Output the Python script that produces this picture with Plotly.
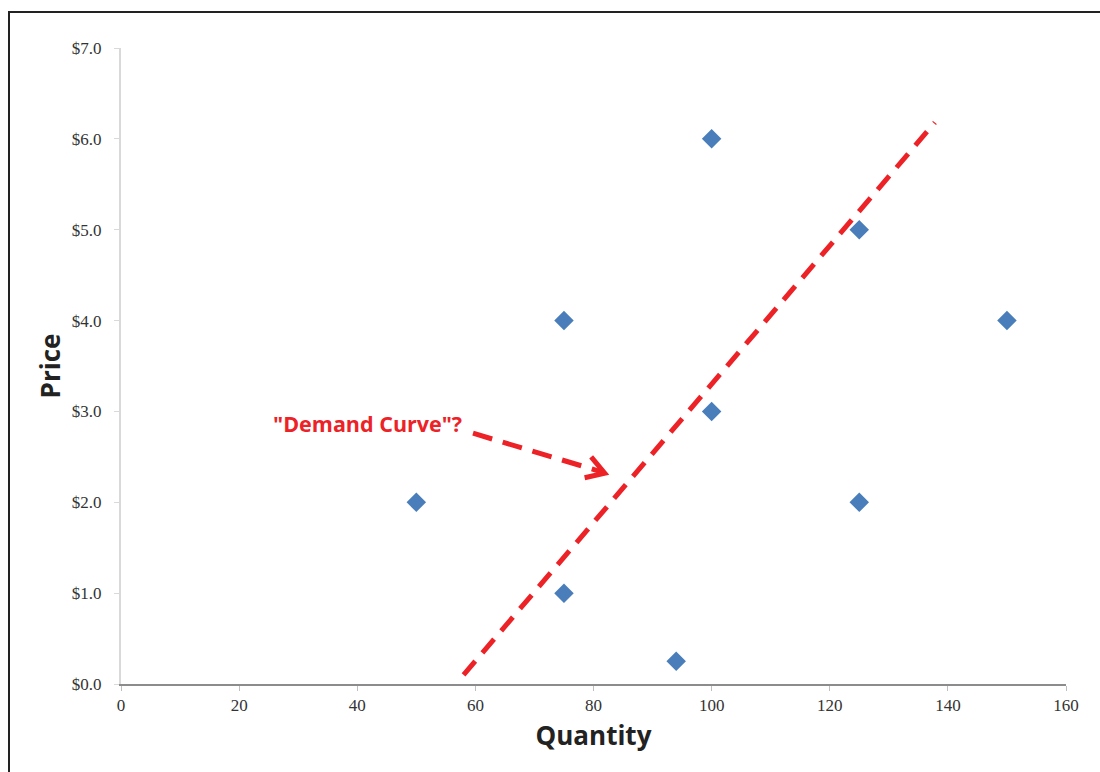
import plotly.graph_objects as go

# Data
quantity = [50, 75, 75, 100, 100, 125, 125, 150, 94]
price = [2.0, 4.0, 1.0, 6.0, 3.0, 5.0, 2.0, 4.0, 0.25]

# Hand-drawn "demand curve" guess line (data coords)
curve_x = [58, 137.8]
curve_y = [0.1, 6.18]

# Arrow from label to the line (data coords)
arrow_x = [59.6, 81.6]
arrow_y = [2.76, 2.33]
head_x = [79.6, 81.9, 78.5]
head_y = [2.50, 2.32, 2.27]

label_text = '"Demand Curve"?'
label_x = 41.7
label_y = 2.87

x_ticks = [0, 20, 40, 60, 80, 100, 120, 140, 160]
y_ticks = [0, 1, 2, 3, 4, 5, 6, 7]
y_labels = ["$%.1f" % v for v in y_ticks]

RED = "#ec2227"
BLUE = "#4a7ebb"

fig = go.Figure()
fig.add_trace(go.Scatter(
    x=curve_x, y=curve_y, mode="lines",
    line=dict(color=RED, width=5, dash="18px,11px"),
    hoverinfo="skip", showlegend=False))
fig.add_trace(go.Scatter(
    x=arrow_x, y=arrow_y, mode="lines",
    line=dict(color=RED, width=5, dash="20px,11px"),
    hoverinfo="skip", showlegend=False))
fig.add_trace(go.Scatter(
    x=head_x, y=head_y, mode="lines",
    line=dict(color=RED, width=5),
    hoverinfo="skip", showlegend=False))
fig.add_trace(go.Scatter(
    x=quantity, y=price, mode="markers",
    marker=dict(symbol="diamond", size=15, color=BLUE,
                line=dict(width=0)),
    showlegend=False))

fig.add_annotation(
    x=label_x, y=label_y, xref="x", yref="y", text=label_text,
    showarrow=False, xanchor="center", yanchor="middle",
    font=dict(family="Open Sans", size=21.5, color=RED, weight="bold"))

fig.add_shape(type="rect", xref="paper", yref="paper",
              x0=(9 - 121) / 945, x1=(1130 - 121) / 945,
              y0=(684 - 800) / 636, y1=1 + (48 - 12) / 636,
              line=dict(color="#222222", width=2), layer="above")

fig.update_layout(
    width=1100, height=772,
    margin=dict(l=121, r=34, t=48, b=88),
    paper_bgcolor="white", plot_bgcolor="white",
    font=dict(family="Liberation Serif", size=17, color="#333333"),
    xaxis=dict(
        range=[0, 160], tickvals=x_ticks, ticktext=[str(v) for v in x_ticks],
        showgrid=False, zeroline=False,
        showline=True, linecolor="#8c8c8c", linewidth=2,
        ticks="outside", ticklen=5, tickcolor="#bfbfbf", tickwidth=1,
        tickfont=dict(family="Liberation Serif", size=17, color="#333333"),
        title=dict(text="Quantity", standoff=12,
                   font=dict(family="Open Sans", size=26, color="#222222", weight="bold"))),
    yaxis=dict(
        range=[0, 7], tickvals=y_ticks, ticktext=y_labels,
        showgrid=False, zeroline=False,
        showline=True, linecolor="#d9d9d9", linewidth=2,
        ticks="outside", ticklen=5, tickcolor="#d9d9d9", tickwidth=1,
        ticklabelstandoff=9,
        tickfont=dict(family="Liberation Serif", size=17, color="#333333"),
        title=dict(text="Price", standoff=4,
                   font=dict(family="Open Sans", size=26, color="#222222", weight="bold"))),
)

fig.write_html("out.html")
